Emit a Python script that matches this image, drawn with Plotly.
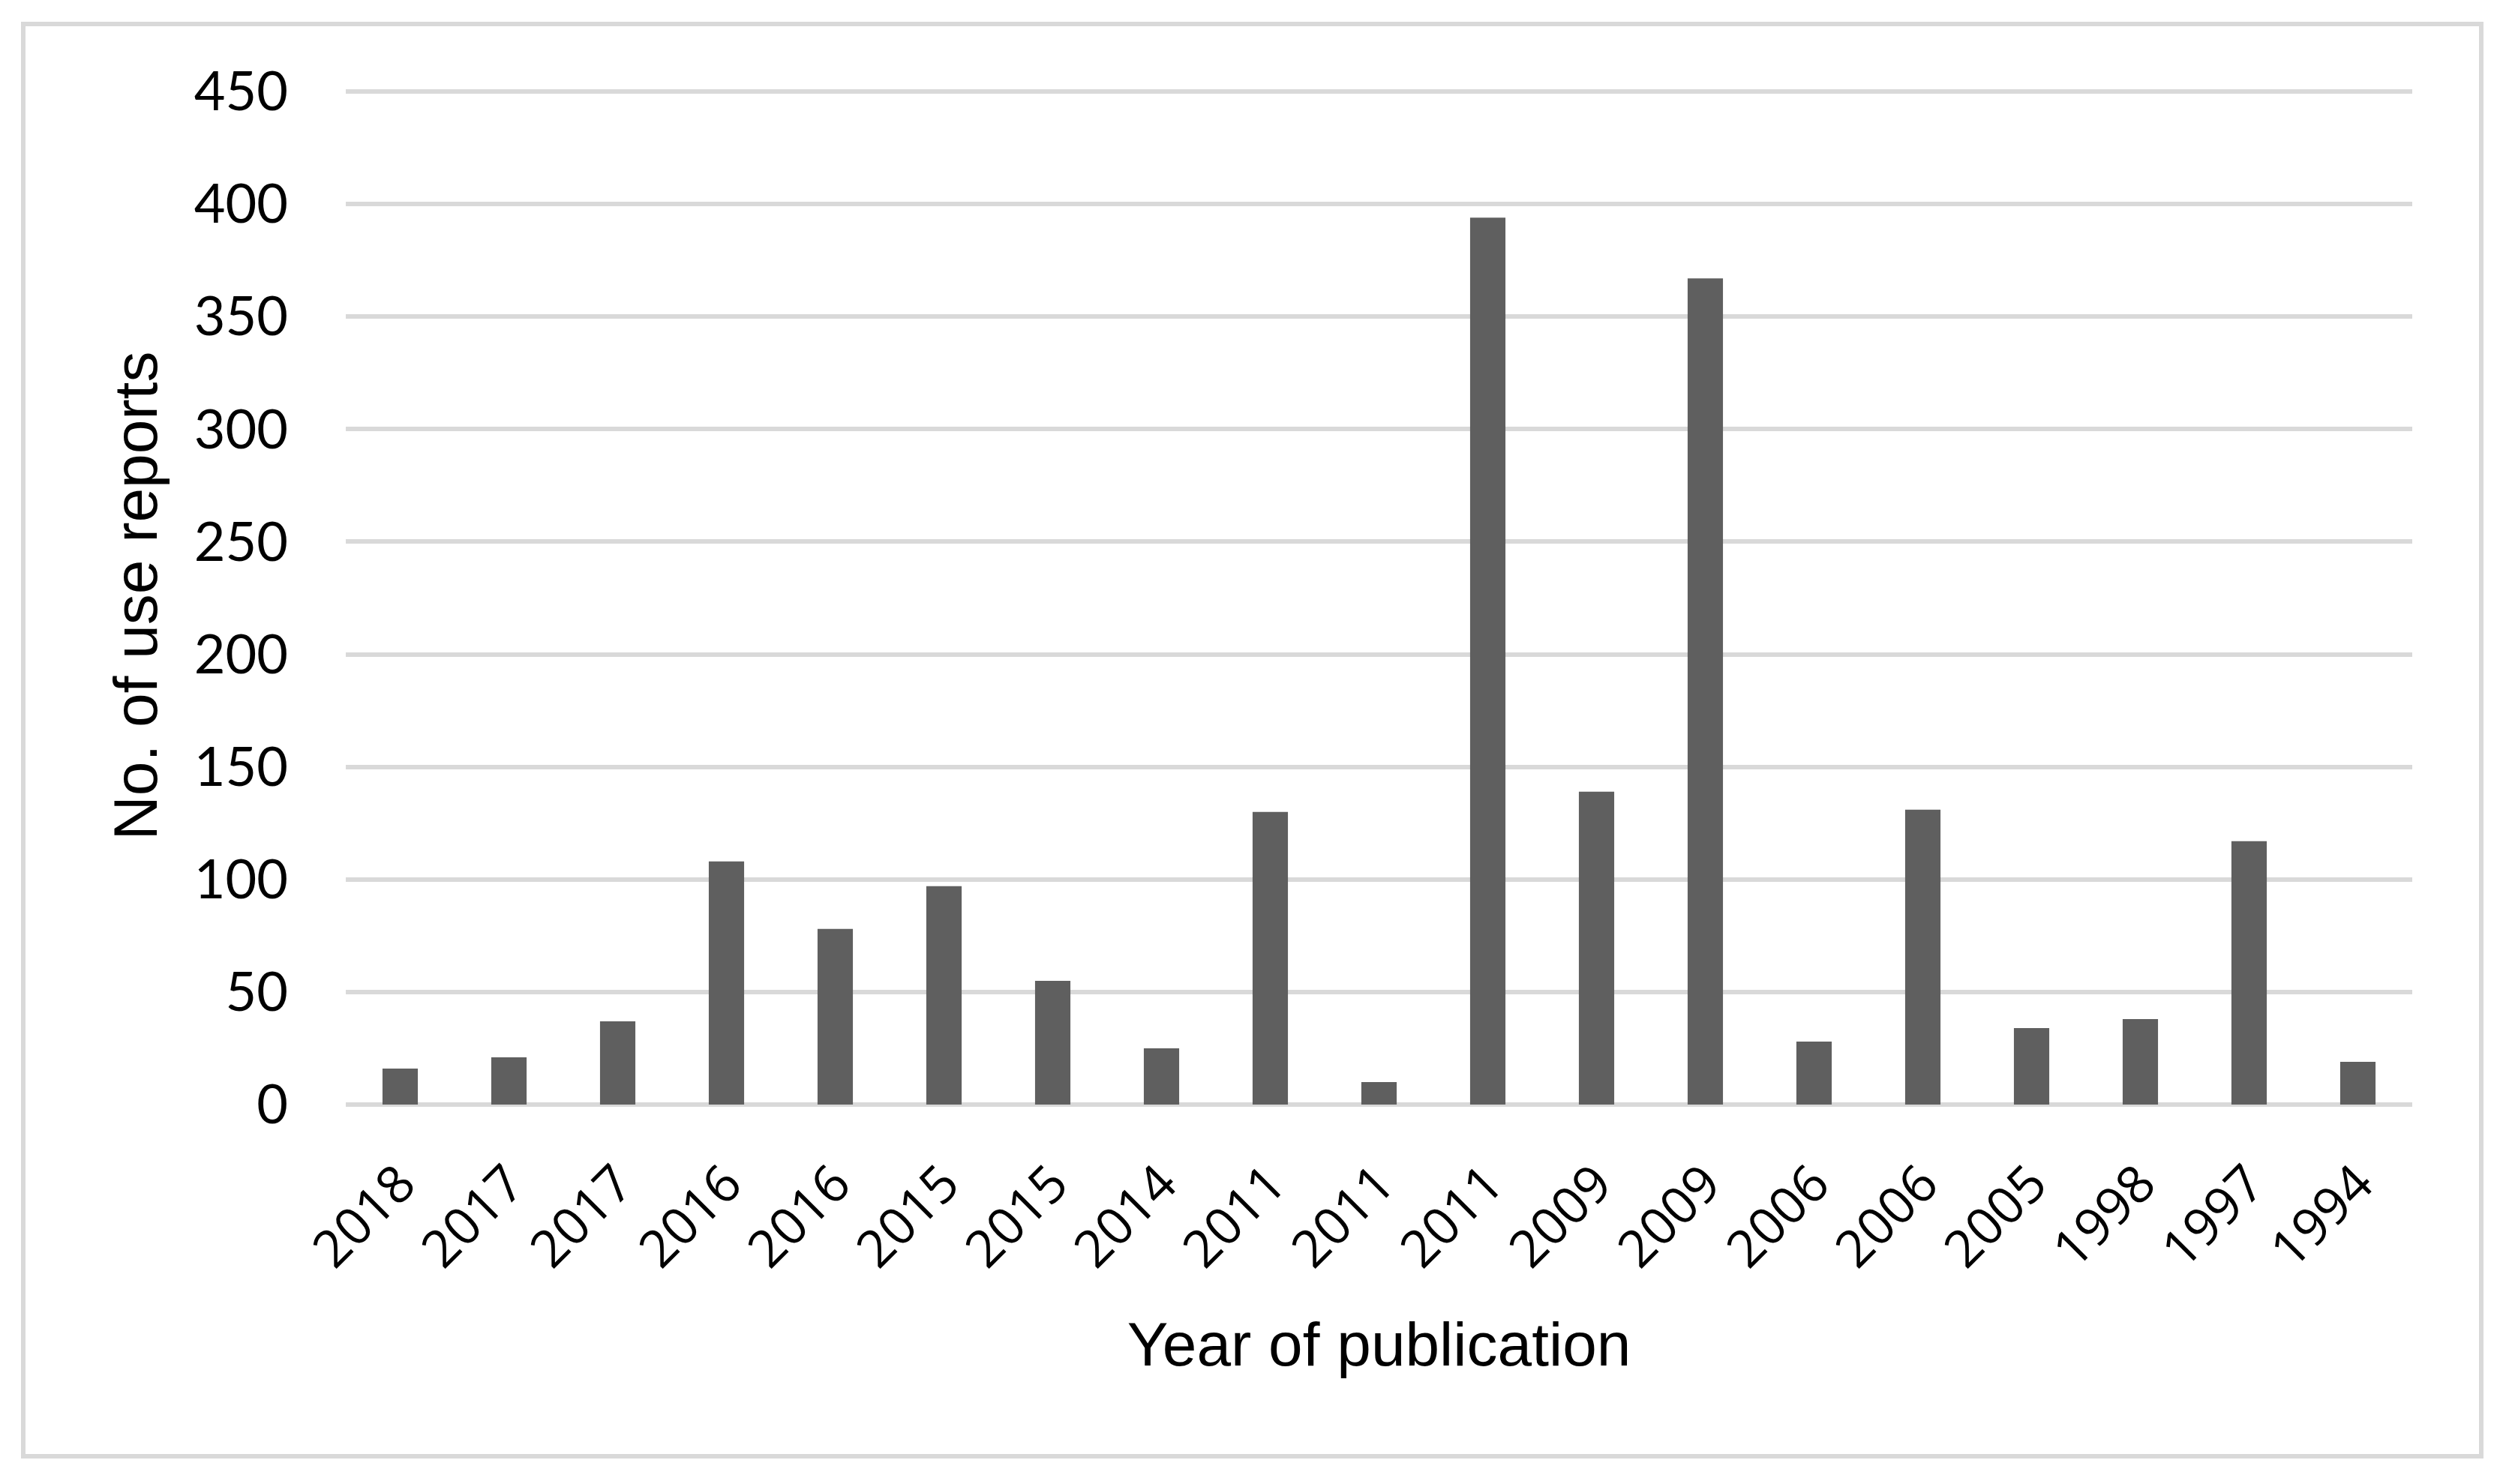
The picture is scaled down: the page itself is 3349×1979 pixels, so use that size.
import plotly.graph_objects as go

years = ["2018", "2017", "2017", "2016", "2016", "2015", "2015", "2014", "2011", "2011",
         "2011", "2009", "2009", "2006", "2006", "2005", "1998", "1997", "1994"]
use_reports = [16, 21, 37, 108, 78, 97, 55, 25, 130, 10,
               394, 139, 367, 28, 131, 34, 38, 117, 19]
y_ticks = [0, 50, 100, 150, 200, 250, 300, 350, 400, 450]

x_pos = list(range(len(years)))

# page body has a default 8px margin -> compensate
W, H = 3341, 1971
plot_l, plot_r = 453, 3208          # plot area x (page coords minus 8)
y0_px, y450_px = 1465, 114          # pixel rows of 0 and 450
y_top_val = 452
px_per_unit = (y0_px - y450_px) / 450.0
plot_top = y0_px - y_top_val * px_per_unit

fig = go.Figure()
fig.add_trace(go.Bar(
    x=x_pos, y=use_reports,
    marker=dict(color="#5f5f5f", line=dict(width=0)),
    width=0.325,
))

grid_col = "#d9d9d9"
pw = plot_r - plot_l
ph = y0_px - plot_top
fig.update_layout(
    width=W, height=H, autosize=False,
    margin=dict(l=plot_l, r=W - plot_r, t=plot_top, b=H - y0_px, pad=0),
    paper_bgcolor="white", plot_bgcolor="white",
    showlegend=False,
    xaxis=dict(
        range=[-0.5, len(years) - 0.5],
        tickmode="array", tickvals=x_pos, ticktext=years,
        tickangle=-45, ticks="", showgrid=False, zeroline=False, showline=False,
        tickfont=dict(family="Open Sans", size=69, color="black"),
        ticklabelstandoff=50,
        title=dict(text="Year of publication", standoff=55,
                   font=dict(family="Liberation Sans", size=82, color="black")),
    ),
    yaxis=dict(
        range=[0, y_top_val], tickmode="array", tickvals=y_ticks,
        ticks="", showline=False,
        showgrid=True, gridcolor=grid_col, gridwidth=6,
        zeroline=True, zerolinecolor=grid_col, zerolinewidth=6,
        tickfont=dict(family="Lato", size=72, color="black"),
        ticklabelstandoff=76,
        title=dict(text="No. of use reports", standoff=22,
                   font=dict(family="Liberation Sans", size=82, color="black")),
    ),
    shapes=[dict(type="rect", xref="paper", yref="paper",
                 x0=(23 - plot_l) / pw, x1=(3300 - plot_l) / pw,
                 y0=(y0_px - 1934) / ph, y1=(y0_px - 24) / ph,
                 line=dict(color=grid_col, width=6), fillcolor="rgba(0,0,0,0)",
                 layer="below")],
)

fig.write_html("out.html")
